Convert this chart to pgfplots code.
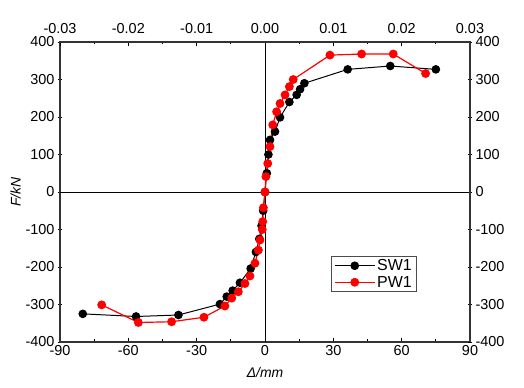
\documentclass[border=0pt]{standalone}
\usepackage{fontspec}
\setmainfont{Liberation Sans}
\usepackage{pgfplots}
\pgfplotsset{compat=1.18}
\usetikzlibrary{calc}
\begin{document}
\begin{tikzpicture}
\pgfplotsset{
  common/.style={
    scale only axis, width=410bp, height=300bp,
    ymin=-400, ymax=400,
    ytick={-400,-300,...,400},
    /pgf/number format/assume math mode=true,
    tick label style={font=\fontsize{14.5}{16}\selectfont},
    tick style={black, line width=0.8pt},
    major tick length=4bp, minor tick length=2.5bp,
    axis line style={line width=1.2pt, black!80},
  }
}
\begin{axis}[common, name=main,
  xmin=-90, xmax=90,
  xtick={-90,-60,...,90}, minor x tick num=1,
  xtick pos=bottom, ytick pos=left,
  xtick align=inside, ytick align=center,
  xlabel={\textit{Δ/mm}}, ylabel={\textit{F/kN}},
  label style={font=\fontsize{14}{16}\selectfont},
  xlabel style={yshift=-5bp},
  ylabel style={yshift=-2bp},
  legend style={at={(0.871,0.167)}, anchor=south east, font=\fontsize{16}{18}\selectfont,
    draw=black!70, line width=0.8pt, inner xsep=3bp, inner ysep=1bp, row sep=0bp},
  legend cell align=left,
  legend image code/.code={\draw[mark repeat=2,mark phase=2] plot coordinates {(0cm,0cm)(0.7cm,0cm)(1.4cm,0cm)};},
]
\addplot[black, line width=0.6pt, forget plot] coordinates {(-90,0) (90,0)};
\addplot[black, line width=0.6pt, forget plot] coordinates {(0,-400) (0,400)};
\addplot[black, line width=1pt, mark=*, mark size=3.8bp] coordinates {
(-80,-325) (-56.6,-332) (-38,-328) (-19.8,-299) (-16.8,-279) (-14.2,-263) (-11,-242) (-6.3,-204)
(-4,-160) (-2.5,-125) (-1.5,-90) (-0.8,-50) (0,0) (0.8,50) (1.5,100) (2.2,139) (4.4,161)
(6.6,199) (10.7,240) (13.9,259) (15.4,274) (17.3,290) (36.3,327) (55,336) (75,327)
};
\addlegendentry{SW1}
\addplot[red, line width=1.2pt, mark=*, mark size=3.8bp] coordinates {
(-71.7,-301) (-55.6,-348) (-41,-346) (-26.8,-334) (-17.6,-304) (-14.6,-283) (-11.7,-266) (-8.8,-244)
(-6.6,-224) (-4.4,-190) (-2.9,-155) (-2.2,-128) (-1.2,-100) (-1,-79) (-0.7,-42) (0,0) (0.4,41)
(1.2,76) (2.2,121) (3.4,179) (5.1,214) (6.6,236) (8.8,259) (10.7,281) (12.4,300) (28.5,365)
(42.4,368) (56.3,368) (70.5,316)
};
\addlegendentry{PW1}
\end{axis}
\begin{axis}[common,
  xmin=-0.03, xmax=0.03,
  axis x line*=top, axis y line*=right,
  xtick={-0.03,-0.02,...,0.03}, minor x tick num=1,
  xtick align=inside, ytick align=center,
  scaled x ticks=false,
  xticklabel style={yshift=5bp, /pgf/number format/fixed, /pgf/number format/fixed zerofill, /pgf/number format/precision=2},
]
\end{axis}
\pgfresetboundingbox
\path[use as bounding box] ($(main.south west)+(-60bp,-46bp)$) rectangle ($(main.north east)+(54bp,42bp)$);
\end{tikzpicture}
\end{document}
